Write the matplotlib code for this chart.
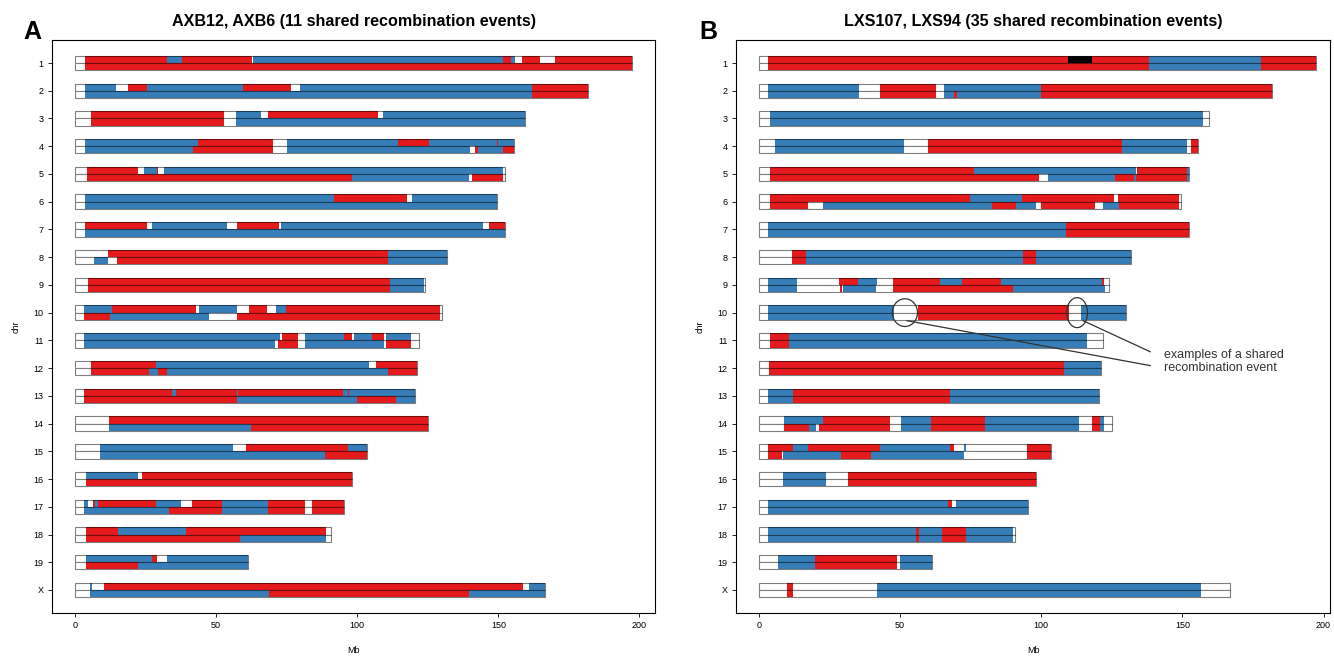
import matplotlib
matplotlib.use("Agg")
import matplotlib.pyplot as plt
from matplotlib.patches import Rectangle, Ellipse

plt.rcParams['font.family'] = ['Liberation Sans', 'DejaVu Sans']

# chromosome names, top to bottom
chroms = ['1', '2', '3', '4', '5', '6', '7', '8', '9', '10',
          '11', '12', '13', '14', '15', '16', '17', '18', '19', 'X']

# segments: colour letter + end position (Mb); w = unknown, r = red strain, b = blue strain, k = black
a_top = [
    "w3.5 r32.5 b37.9 r62.6 w63.2 b151.5 r154.4 b156.0 w158.2 r164.9 w170.2 r197.2",
    "w3.5 b14.5 w18.9 r25.6 b59.4 r76.5 w79.7 b161.9 r181.7",
    "w5.6 r52.9 w56.9 b65.8 w68.3 r107.5 w109.3 b159.6",
    "w3.5 b43.7 r70.0 w75.0 b114.3 r125.4 b149.4 r149.8 b155.6",
    "w4.1 r22.4 w24.5 b28.9 r29.4 w31.5 b151.8 w152.5",
    "w3.5 b91.9 r117.8 w119.3 b149.5",
    "w3.5 r25.4 w27.4 b53.7 w57.3 r72.4 w73.1 b144.7 w146.8 r152.5",
    "w11.6 r110.8 b131.7",
    "w4.5 r111.6 b123.7 w124.1",
    "w3.3 b13.0 r42.9 w44.1 b57.5 w61.8 r67.9 w71.1 b74.7 r129.3 w130.0",
    "w3.3 b72.6 w73.5 r78.9 w81.6 b95.4 r98.2 w98.9 b105.4 r109.6 w110.3 b118.9 w121.8",
    "w5.6 r28.6 b104.3 w106.7 r121.3",
    "w3.3 r34.5 b35.8 r57.3 b57.8 r95.1 b96.6 r97.2 b120.3",
    "w12.2 r125.2",
    "w8.9 b56.1 w60.6 r96.9 b103.5",
    "w3.8 b22.4 w23.8 r98.3",
    "w3.3 b4.7 w6.3 r7.1 b8.3 r28.6 b37.4 w41.6 r52.0 b68.3 r81.6 w84.1 r95.3",
    "w3.8 r15.4 b39.2 r88.8 w90.8",
    "w3.8 b27.2 r29.2 w32.5 b61.3",
    "w5.3 b5.9 w10.4 r158.9 w161.0 b166.7",
]
a_bottom = [
    "w3.5 r197.2",
    "w3.5 b161.9 r181.7",
    "w5.6 r52.9 w56.9 b159.6",
    "w3.5 b41.7 r70.0 w75.0 b140.0 w141.6 r142.9 b151.8 r155.6",
    "w4.1 r98.2 b139.7 w140.7 r151.8 w152.5",
    "w3.5 b149.5",
    "w3.5 b152.5",
    "w6.9 b11.6 w14.8 r110.8 b131.7",
    "w4.5 r111.6 b123.7 w124.1",
    "w3.3 r12.4 b47.6 w57.5 r129.3 w130.0",
    "w3.3 b70.9 w72.1 r78.9 w81.6 b109.6 w110.3 r118.9 w121.8",
    "w5.6 r26.3 b29.5 r32.5 b110.8 r121.3",
    "w3.3 r57.3 b100.0 r113.6 b120.3",
    "w12.2 b62.4 r125.2",
    "w8.9 b88.4 r103.5",
    "w3.8 r98.3",
    "w3.3 b33.4 r52.0 b68.3 r81.6 w84.1 r95.3",
    "w3.8 r58.6 b88.8 w90.8",
    "w3.8 r22.4 b61.3",
    "w5.3 b68.7 r139.7 b166.7",
]

b_top = [
    "w3.1 r109.6 k117.9 r138.2 b177.8 r197.2",
    "w3.1 b35.4 w42.9 r62.7 w65.6 b99.9 r181.7",
    "w3.9 b157.2 w159.6",
    "w5.7 b51.5 w59.8 r128.5 b151.7 w153.0 r155.6",
    "w3.9 r76.3 b133.5 w134.0 r151.6 b152.5",
    "w3.9 r74.8 b93.1 r125.8 w127.3 r148.9 w149.5",
    "w3.1 b108.8 r152.5",
    "w11.6 r16.7 b93.4 r98.0 b131.7",
    "w3.3 b13.3 w28.5 r35.0 b41.7 w47.6 r64.1 b71.8 r85.8 b121.4 r122.4 w124.1",
    "w3.1 b48.0 w56.2 r109.9 w114.0 b130.0",
    "w3.9 r10.6 b116.1 w121.8",
    "w3.7 r108.1 b121.3",
    "w3.1 b11.9 r67.7 b120.3",
    "w9.0 b22.8 r46.4 w50.3 b60.8 r79.9 b113.5 w117.9 r120.8 b122.4 w125.2",
    "w3.3 r12.2 b17.3 r42.9 b67.7 r69.1 w72.6 b73.2 w94.9 r103.5",
    "w8.6 b23.7 w31.6 r98.3",
    "w3.1 b67.1 r68.3 w69.8 b95.3",
    "w3.3 b55.6 r56.8 b64.7 r73.2 b89.9 w90.8",
    "w6.6 b19.8 r48.8 w50.0 b61.3",
    "w9.8 r12.2 w41.7 b156.6 w166.7",
]
b_bottom = [
    "w3.1 r138.2 b177.8 r197.2",
    "w3.1 b35.4 w42.9 r62.7 w65.6 b69.2 r70.2 b99.9 r181.7",
    "w3.9 b157.2 w159.6",
    "w5.7 b51.5 w59.8 r128.5 b151.7 w153.0 r155.6",
    "w3.9 r99.2 w102.3 b126.2 r133.0 b133.5 r151.6 b152.5",
    "w3.9 r17.5 w22.6 b82.5 r91.0 b98.2 w99.9 r119.1 w121.8 b127.7 r148.9 w149.5",
    "w3.1 b108.8 r152.5",
    "w11.6 r16.7 b93.4 r98.0 b131.7",
    "w3.3 b13.3 w28.7 r29.5 w29.9 b41.5 w47.6 r89.9 b122.6 w124.1",
    "w3.1 b48.0 w56.2 r109.9 w114.0 b130.0",
    "w3.9 r10.6 b116.1 w121.8",
    "w3.7 r108.1 b121.3",
    "w3.1 b11.9 r67.7 b120.3",
    "w9.0 r17.8 b20.2 w21.3 r46.4 w50.3 b60.8 r79.9 b113.5 w117.9 r120.8 b122.4 w125.2",
    "w3.3 r8.0 w8.6 b28.9 r39.7 b72.6 w94.9 r103.5",
    "w8.6 b23.7 w31.6 r98.3",
    "w3.1 b95.3",
    "w3.3 b55.6 r56.8 b64.7 r73.2 b89.9 w90.8",
    "w6.6 b19.8 r48.8 w50.0 b61.3",
    "w9.8 r12.2 w41.7 b156.6 w166.7",
]

colors = {'w': 'white', 'r': '#e41a1c', 'b': '#377eb8', 'k': 'black'}
h = 0.26  # height of one haplotype bar (in row units)


def parse(code):
    # turn "w3.5 r32.5 ..." into (start, width) ranges and colours
    ranges, cols = [], []
    start = 0.0
    for item in code.split():
        end = float(item[1:])
        ranges.append((start, end - start))
        cols.append(colors[item[0]])
        start = end
    return ranges, cols, start


def draw_panel(ax, top, bottom, title):
    for i in range(len(chroms)):
        y = i + 1
        for code, y0 in ((top[i], y - h), (bottom[i], y)):
            ranges, cols, length = parse(code)
            ax.broken_barh(ranges, (y0, h), facecolors=cols, edgecolor='none')
            ax.add_patch(Rectangle((0, y0), length, h, facecolor='none',
                                   edgecolor=(0, 0, 0, 0.5), lw=0.8))
    ax.set_xlim(-8.15, 205.5)
    ax.set_ylim(20.83, 0.17)
    ax.set_yticks(range(1, len(chroms) + 1))
    ax.set_yticklabels(chroms)
    ax.set_xticks([0, 50, 100, 150, 200])
    ax.tick_params(labelsize=6.5, length=3, width=0.6, pad=3)
    ax.set_ylabel('chr', fontsize=6.5, labelpad=9)
    ax.set_xlabel('Mb', fontsize=6.5, labelpad=11)
    ax.set_title(title, fontsize=11.6, fontweight='bold', pad=10)
    for s in ax.spines.values():
        s.set_linewidth(0.8)


fig = plt.figure(figsize=(13.34, 6.57), dpi=100)

axA = fig.add_axes([52 / 1334, 44 / 657, 603 / 1334, 573 / 657])
draw_panel(axA, a_top, a_bottom, 'AXB12, AXB6 (11 shared recombination events)')

axB = fig.add_axes([736 / 1334, 44 / 657, 594 / 1334, 573 / 657])
draw_panel(axB, b_top, b_bottom, 'LXS107, LXS94 (35 shared recombination events)')
axB.set_xlim(-8.15, 202.3)

# annotation of shared recombination events on chr10
axB.add_patch(Ellipse((51.7, 10.0), 8.9, 1.0, facecolor='none', edgecolor='#333333', lw=0.9))
axB.add_patch(Ellipse((112.7, 10.0), 7.4, 1.08, facecolor='none', edgecolor='#333333', lw=0.9))
axB.plot([52.4, 138.6], [10.29, 11.91], color='#333333', lw=0.9)
axB.plot([114.8, 138.6], [10.29, 11.41], color='#333333', lw=0.9)
axB.text(143.5, 11.76, 'examples of a shared\nrecombination event', fontsize=9,
         color='#333333', va='center', ha='left', linespacing=1.1)

# panel letters
fig.text(32 / 1334, 1 - 32 / 657, 'A', fontsize=18, fontweight='bold', ha='center', va='center')
fig.text(708 / 1334, 1 - 32 / 657, 'B', fontsize=18, fontweight='bold', ha='center', va='center')

fig.savefig('out.png', dpi=100)
